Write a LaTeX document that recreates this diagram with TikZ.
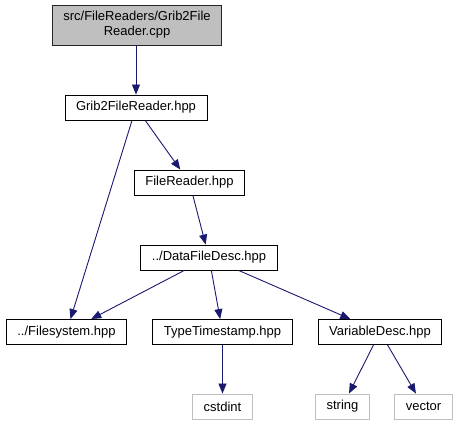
\documentclass[tikz,border=0pt]{standalone}
\usepackage{fontspec}
\setmainfont{Liberation Sans}
\usetikzlibrary{arrows.meta}
\definecolor{edgeblue}{HTML}{191970}
\definecolor{topfill}{HTML}{BFBFBF}
\definecolor{extgray}{HTML}{BFBFBF}
\tikzset{
  filebox/.style={draw=black, line width=0.9pt, inner xsep=11pt, inner ysep=0pt,
    minimum height=25pt, font=\fontsize{13}{15}\selectfont, align=center},
  topbox/.style={filebox, fill=topfill, draw=black!85, minimum height=40pt},
  extbox/.style={filebox, draw=extgray},
  dep/.style={draw=edgeblue, line width=0.9pt, -{Triangle[length=10pt,width=8pt]}, edgeblue},
}
\begin{document}
\begin{tikzpicture}[x=1pt,y=-1pt]
\useasboundingbox (0,0) rectangle (459,425);
\node[topbox] (top) at (137,25) {src/FileReaders/Grib2File\\Reader.cpp};
\node[filebox] (grib) at (136,107.5) {Grib2FileReader.hpp};
\node[filebox] (fr) at (189.5,182.5) {FileReader.hpp};
\node[filebox] (dfd) at (209,257.5) {../DataFileDesc.hpp};
\node[filebox] (fs) at (66.5,332) {../Filesystem.hpp};
\node[filebox] (tt) at (222.5,332) {TypeTimestamp.hpp};
\node[filebox] (vd) at (380,332) {VariableDesc.hpp};
\node[extbox] (cst) at (222.5,406.5) {cstdint};
\node[extbox] (str) at (342.5,406.5) {string};
\node[extbox] (vec) at (423.5,406.5) {vector};
\draw[dep] (top.south -| grib) -- (grib);
\draw[dep] (grib) -- (fs);
\draw[dep] (grib) -- (fr);
\draw[dep] (fr) -- (dfd);
\draw[dep] (dfd) -- (fs);
\draw[dep] (dfd) -- (tt);
\draw[dep] (dfd) -- (vd);
\draw[dep] (tt) -- (cst);
\draw[dep] (vd) -- (str);
\draw[dep] (vd) -- (vec);
\end{tikzpicture}
\end{document}
